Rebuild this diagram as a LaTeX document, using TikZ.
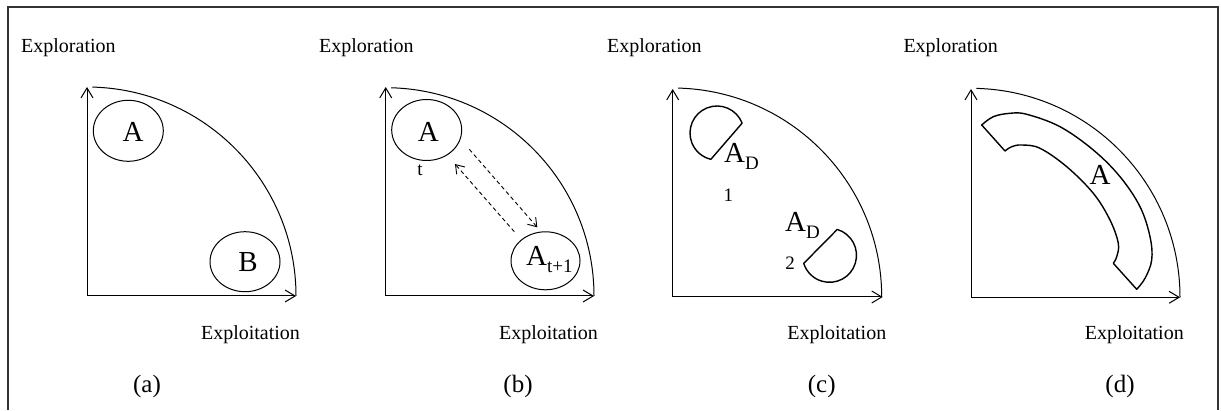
\documentclass[tikz,border=0pt]{standalone}
\usepackage{fontspec}
\setmainfont{Liberation Serif}
\usetikzlibrary{arrows.meta,shapes.geometric}
\tikzset{
  axisarrow/.style={line width=1pt, -{Straight Barb[length=10pt,width=12pt,line width=1pt]}},
  qarc/.style={line width=1pt},
  region/.style={draw, ellipse, line width=1pt, inner sep=0pt},
  shapeline/.style={line width=1.4pt, line join=round},
  dasharrow/.style={line width=0.9pt, dash pattern=on 4pt off 3pt, -{Straight Barb[length=8pt,width=11pt,line width=0.9pt]}},
  labtext/.style={font=\fontsize{20}{24}\selectfont, inner sep=0pt},
  captext/.style={font=\fontsize{25}{30}\selectfont, inner sep=0pt},
  bigtext/.style={font=\fontsize{29}{32}\selectfont, inner sep=0pt},
  smalltext/.style={font=\fontsize{19}{22}\selectfont, inner sep=0pt},
}
\newcommand{\Asub}[1]{{\fontsize{29}{32}\selectfont A}{\fontsize{19}{22}\selectfont\raisebox{-7pt}{#1}}}
\begin{document}
\begin{tikzpicture}[x=1pt,y=1pt]
\useasboundingbox (0,0) rectangle (1221,410);
% frame
\draw[line width=1.2pt, black!80] (8,0) -- (8,403) -- (1218,403) -- (1218,0);

% ---------- panel (a)
\coordinate (oa) at (87,114);
\coordinate (ya) at (87,323);
\coordinate (xa) at (296,114);
\draw[axisarrow] (oa) -- (ya);
\draw[axisarrow] (oa) -- (xa);
\draw[qarc] ([shift={(88.5:209)}]oa) arc[start angle=88.5,end angle=0,radius=209];
\node[region, minimum width=70pt, minimum height=61pt] (ea) at (128.3,279.2) {};
\node[bigtext] (ta) at (133,278) {A};
\node[region, minimum width=70pt, minimum height=60pt] (eb) at (245,148.3) {};
\node[bigtext] (tb) at (248,148) {B};
\node[labtext, anchor=west] (expla) at (21,362) {Exploration};
\node[labtext] (exploita) at (250.5,75) {Exploitation};
\node[captext] (capa) at (147,24) {(a)};

% ---------- panel (b)
\coordinate (ob) at (385.7,114);
\coordinate (yb) at (385.7,323);
\coordinate (xb) at (594,114);
\draw[axisarrow] (ob) -- (yb);
\draw[axisarrow] (ob) -- (xb);
\draw[qarc] ([shift={(88.5:208.3)}]ob) arc[start angle=88.5,end angle=0,radius=208.3];
\node[region, minimum width=70pt, minimum height=61pt] (eat) at (426.7,280) {};
\node[bigtext] (tat) at (428.3,278) {A};
\node[smalltext] (tt) at (420,240) {t};
\node[region, minimum width=69pt, minimum height=58pt] (eat1) at (545.5,149.2) {};
\node[inner sep=0pt, anchor=west] (tat1) at (526,150) {\Asub{t+1}};
\coordinate (d1s) at (469.3,260.7);
\coordinate (d1e) at (537.3,182.7);
\coordinate (d2s) at (514.3,178.3);
\coordinate (d2e) at (455,246);
\draw[dasharrow] (d1s) -- (d1e);
\draw[dasharrow] (d2s) -- (d2e);
\node[labtext, anchor=west] (explb) at (319,362) {Exploration};
\node[labtext] (exploitb) at (548.5,75) {Exploitation};
\node[captext] (capb) at (518,24) {(b)};

% ---------- panel (c)
\coordinate (oc) at (672.7,113);
\coordinate (yc) at (672.7,321);
\coordinate (xc) at (882.7,113);
\draw[axisarrow] (oc) -- (yc);
\draw[axisarrow] (oc) -- (xc);
\draw[qarc] ([shift={(88.5:209)}]oc) arc[start angle=88.5,end angle=0,radius=209];
\coordinate (c1) at (717,277);
\coordinate (c2) at (829.5,154.7);
\draw[shapeline] ([shift={(21.4:27)}]c1) arc[start angle=21.4,end angle=256.9,radius=27] -- cycle;
\draw[shapeline] ([shift={(73.3:27)}]c2) arc[start angle=73.3,end angle=-162.6,radius=27] -- cycle;
\node[inner sep=0pt, anchor=west] (ad1) at (724,254) {\Asub{D}};
\node[smalltext] (n1) at (728.3,215) {1};
\node[inner sep=0pt, anchor=west] (ad2) at (785,184.5) {\Asub{D}};
\node[smalltext] (n2) at (790,146.7) {2};
\node[labtext, anchor=west] (explc) at (607,362) {Exploration};
\node[labtext] (exploitc) at (836.8,75) {Exploitation};
\node[captext] (capc) at (821.7,24) {(c)};

% ---------- panel (d)
\coordinate (od) at (971,112.7);
\coordinate (yd) at (971,321);
\coordinate (xd) at (1180,112.7);
\draw[axisarrow] (od) -- (yd);
\draw[axisarrow] (od) -- (xd);
\draw[qarc] ([shift={(88.5:209)}]od) arc[start angle=88.5,end angle=0,radius=209];
\draw[shapeline] plot[smooth, tension=0.6] coordinates {
  (981.7,285) (993.3,293.3) (1010,296.7) (1026.7,295.7) (1060,283.3)
  (1093.3,260) (1120,233.3) (1140,203.3) (1150,173.3) (1151.7,150)
  (1145,131.7) (1136.7,120.7)}
  -- plot[smooth, tension=0.6] coordinates {
  (1113.3,146.7) (1116.7,153.3) (1118.3,166.7) (1110,190) (1093.3,216.7)
  (1066.7,243.3) (1040,261.7) (1021.7,265) (1011.7,263.3) (1005,259)}
  -- cycle;
\node[bigtext] (tband) at (1100,235) {A};
\node[labtext, anchor=west] (expld) at (903.3,362) {Exploration};
\node[labtext] (exploitd) at (1134.3,75) {Exploitation};
\node[captext] (capd) at (1120,24) {(d)};
\end{tikzpicture}
\end{document}
